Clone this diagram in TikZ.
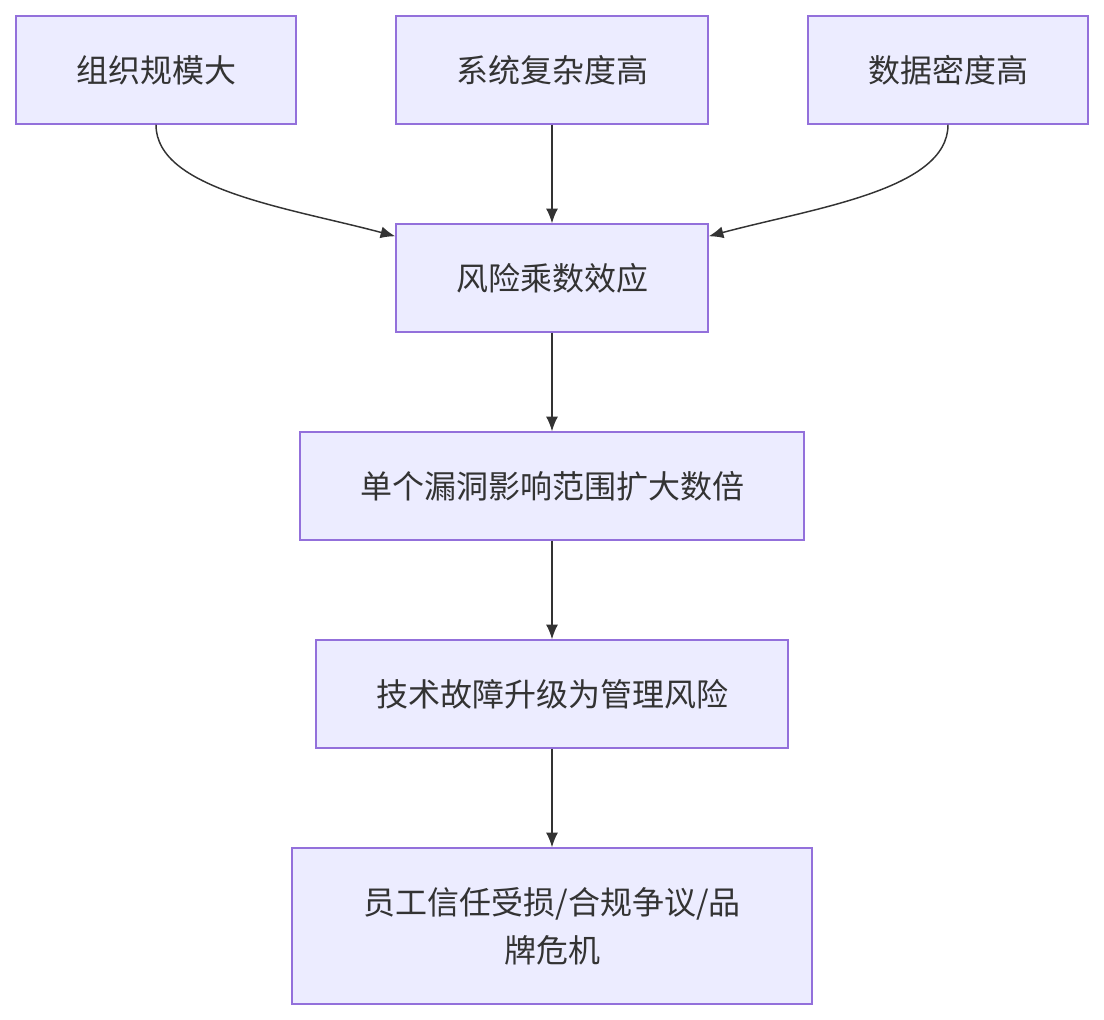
\documentclass[tikz,border=0pt]{standalone}
\usepackage{fontspec}
\setmainfont{Noto Sans CJK SC}
\usetikzlibrary{arrows.meta, positioning}
\definecolor{boxfill}{HTML}{ECECFF}
\definecolor{boxline}{HTML}{9370DB}
\definecolor{linkgray}{HTML}{333333}

\begin{document}
\begin{tikzpicture}[x=0.75pt, y=-0.75pt,
            block/.style={draw=boxline, fill=boxfill, line width=1.1pt,
                            minimum height=81pt, inner sep=0pt,
                            font=\fontsize{24}{36}\selectfont, text=linkgray, align=center},
            link/.style={draw=linkgray, line width=1.1pt, -{Latex[length=11pt, width=9pt]}},
        ]
            \useasboundingbox (0,0) rectangle (1104,1020);
            \node[block, minimum width=210pt] (scale)    at (156,70)  {组织规模大};
            \node[block, minimum width=234pt] (complex)  at (552,70)  {系统复杂度高};
            \node[block, minimum width=210pt] (density)  at (948,70)  {数据密度高};
            \node[block, minimum width=234pt] (multi)    at (552,278) {风险乘数效应};
            \node[block, minimum width=378pt] (vuln)     at (552,486) {单个漏洞影响范围扩大数倍};
            \node[block, minimum width=354pt] (mgmt)     at (552,694) {技术故障升级为管理风险};
            \node[block, minimum width=390pt, minimum height=117pt] (crisis) at (552,926)
                {员工信任受损/合规争议/品\\牌危机};
            \draw[link] (scale.south) .. controls (156,190) and (290,208) .. ([yshift=-9.75pt]multi.north west);
            \draw[link] (complex.south) -- (multi.north);
            \draw[link] (density.south) .. controls (948,190) and (814,208) .. ([yshift=-9.75pt]multi.north east);
            \draw[link] (multi.south) -- (vuln.north);
            \draw[link] (vuln.south) -- (mgmt.north);
            \draw[link] (mgmt.south) -- (crisis.north);
        \end{tikzpicture}
\end{document}
